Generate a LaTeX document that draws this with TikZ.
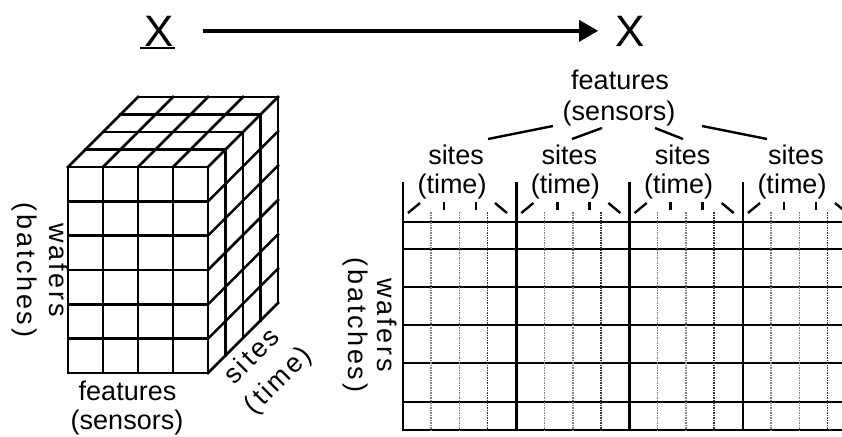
\documentclass[tikz,border=0pt]{standalone}
\usepackage{fontspec}
\setmainfont{Liberation Sans}
\newfontfamily\spacedfont[LetterSpace=10]{Liberation Sans}
\usetikzlibrary{arrows.meta}
\begin{document}
\begin{tikzpicture}[x=1pt,y=-1pt,
  lbl/.style={font=\fontsize{27}{31}\selectfont, inner sep=0pt, anchor=base},
  spaced/.style={font=\spacedfont\fontsize{27}{31}\selectfont, inner sep=0pt, anchor=base},
  bigx/.style={font=\fontsize{44}{50}\selectfont, inner sep=0pt, anchor=base},
  cube/.style={line width=2.5pt, line cap=rect},
  mline/.style={line width=2.8pt, line cap=rect},
  fan/.style={line width=2.4pt},
  dotline/.style={line width=1.5pt, black!50, dash pattern=on 1.5pt off 1pt},
  dotdark/.style={line width=1.5pt, black!80, dash pattern=on 1.5pt off 1pt}]
\useasboundingbox (0,0) rectangle (842,436);

% ---- mapping arrow from the 3-way array to the unfolded matrix
\node[bigx] (xa) at (159,46) {X};
\node[bigx] (xb) at (630,46) {X};
\draw[line width=1.6pt] ([xshift=-4pt,yshift=-2pt]xa.base west) -- ([xshift=1pt,yshift=-2pt]xa.base east);
\draw[line width=3.5pt, -{Triangle[length=19pt,width=21pt]}, shorten <=29pt, shorten >=17pt] (xa) -- (xb);

% ---- cube: front face
\foreach \i in {0,...,4} \draw[cube] ({68+35*\i},167) -- ({68+35*\i},373);
\foreach \j in {0,...,6} \draw[cube] (68,{167+206/6*\j}) -- (208,{167+206/6*\j});
% top face
\foreach \i in {0,...,4} \draw[cube] ({68+35*\i},167) -- ++(70,-70);
\foreach \k in {1,...,4} \draw[cube] ({68+17.5*\k},{167-17.5*\k}) -- ++(140,0);
% right face
\foreach \k in {1,...,4} \draw[cube] ({208+17.5*\k},{167-17.5*\k}) -- ++(0,206);
\foreach \j in {1,...,6} \draw[cube] (208,{167+206/6*\j}) -- ++(70,-70);

% cube axis labels
\node[spaced, rotate=-90] (cw) at (49,270) {wafers};
\node[spaced, rotate=-90] (cb) at (17.5,270) {(batches)};
\node[lbl] (cf) at (127.5,400) {features};
\node[lbl] (cs) at (127,429) {(sensors)};
\node[spaced, rotate=45] (ct1) at (258,362) {sites};
\node[spaced, rotate=45] (ct2) at (284,386) {(time)};

% ---- unfolded matrix
\foreach \y in {222,249,287,325,363,402,430} \draw[mline] (403,\y) -- (842,\y);
\foreach \i in {0,...,3} {
  \pgfmathsetmacro{\b}{403+113.33*\i}
  \draw[mline] (\b,183) -- (\b,430);
  \draw[dotline] ({\b+28},212) -- ({\b+28},430);
  \draw[dotline] ({\b+56.5},212) -- ({\b+56.5},430);
  \draw[dotdark] ({\b+84.5},212) -- ({\b+84.5},430);
  \draw[fan] ({\b+5},213) -- ({\b+17},203);
  \draw[fan] ({\b+41},202) -- ({\b+41},210);
  \draw[fan] ({\b+73},202) -- ({\b+73},210);
  \draw[fan] ({\b+92},203) -- ({\b+104},213);
  \node[lbl] (s\i) at ({\b+53},164) {sites};
  \node[lbl] (t\i) at ({\b+49},193) {(time)};
}

% matrix labels
\node[spaced, rotate=-90] (mw) at (377.5,325) {wafers};
\node[spaced, rotate=-90] (mb) at (348.7,325) {(batches)};
\node[lbl] (mf) at (620,89) {features};
\node[lbl] (ms) at (619,120) {(sensors)};
\draw[fan] (488,139) -- (553,126);
\draw[fan] (572,139) -- (602,128);
\draw[fan] (655,128) -- (683,139);
\draw[fan] (702,126) -- (767,139);
\end{tikzpicture}
\end{document}
